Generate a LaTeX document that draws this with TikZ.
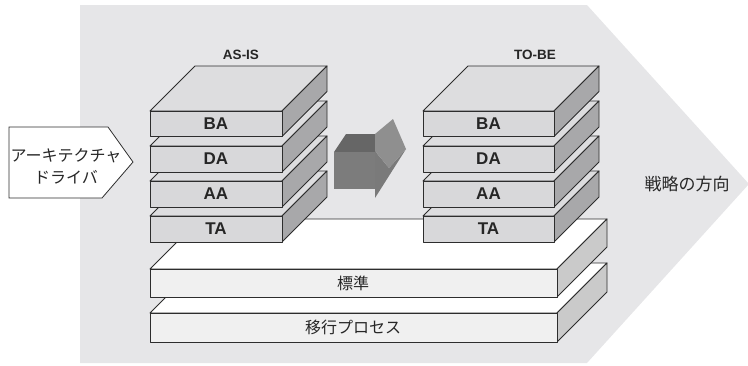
\documentclass[tikz,border=0pt]{standalone}
\usepackage{fontspec}
\setmainfont{Liberation Sans}
\newfontfamily\jpfont{Noto Sans CJK JP}
\definecolor{bggray}{RGB}{230,230,232}
\definecolor{slabfront}{RGB}{216,216,218}
\definecolor{slabtop}{RGB}{221,221,223}
\definecolor{slabside}{RGB}{168,168,170}
\definecolor{basefront}{RGB}{240,240,240}
\definecolor{basetop}{RGB}{255,255,255}
\definecolor{baseside}{RGB}{202,202,202}
\definecolor{edgecol}{RGB}{45,45,45}
\definecolor{arrtop}{RGB}{102,102,102}
\definecolor{arrfront}{RGB}{124,124,124}
\definecolor{arrlight}{RGB}{143,143,143}
\definecolor{arrdark}{RGB}{122,122,122}
\tikzset{
  edge/.style={draw=edgecol,line width=0.9pt,line join=round},
  lbl/.style={font=\bfseries\fontsize{17}{17}\selectfont,text=black!85,inner sep=0pt},
  ttl/.style={font=\bfseries\fontsize{13.5}{14}\selectfont,text=black!85,inner sep=0pt},
  jp/.style={font=\jpfont\fontsize{16}{16}\selectfont,text=black!85,inner sep=0pt},
}
% #1 x0, #2 y0, #3 w, #4 h, #5 d, #6 front, #7 top, #8 side
\newcommand{\myslab}[8]{%
  \draw[edge,fill=#7] (#1,#2) -- ++(#5,-#5) -- ++(#3,0) -- ++(-#5,#5) -- cycle;
  \draw[edge,fill=#8] (#1+#3,#2) -- ++(#5,-#5) -- ++(0,#4) -- ++(-#5,#5) -- cycle;
  \draw[edge,fill=#6] (#1,#2) rectangle ++(#3,#4);
}
\begin{document}
\begin{tikzpicture}[x=1pt,y=-1pt]
\useasboundingbox (0,0) rectangle (748,365);
% background direction pentagon
\fill[bggray] (80,5) -- (587,5) -- (749,184) -- (587,363) -- (80,363) -- cycle;
% left driver pentagon
\draw[draw=edgecol,line width=0.8pt,fill=white] (9,127) -- (108,127) -- (133,162) -- (102,198) -- (9,198) -- cycle;
\node[jp,align=center,font=\jpfont\fontsize{16}{22}\selectfont] (driver) at (66,166) {アーキテクチャ\\ドライバ};
% base slabs
\myslab{150}{313}{407}{29}{50}{basefront}{basetop}{baseside}
\node[jp] (process) at (353,327.5) {移行プロセス};
\myslab{150}{269}{407}{28}{50}{basefront}{basetop}{baseside}
\node[jp] (std) at (353,283) {標準};
% AS-IS stack
\myslab{150}{216}{132}{26}{45}{slabfront}{slabtop}{slabside}
\node[lbl] (asta) at (216,229) {TA};
\myslab{150}{181}{132}{26}{45}{slabfront}{slabtop}{slabside}
\node[lbl] (asaa) at (216,194) {AA};
\myslab{150}{146}{132}{26}{45}{slabfront}{slabtop}{slabside}
\node[lbl] (asda) at (216,159) {DA};
\myslab{150}{111}{132}{25.5}{45}{slabfront}{slabtop}{slabside}
\node[lbl] (asba) at (216,124) {BA};
\node[ttl] (asis) at (241,55) {AS-IS};
% TO-BE stack
\myslab{423}{216}{131}{26}{45}{slabfront}{slabtop}{slabside}
\node[lbl] (tbta) at (488.5,229) {TA};
\myslab{423}{181}{131}{26}{45}{slabfront}{slabtop}{slabside}
\node[lbl] (tbaa) at (488.5,194) {AA};
\myslab{423}{146}{131}{26}{45}{slabfront}{slabtop}{slabside}
\node[lbl] (tbda) at (488.5,159) {DA};
\myslab{423}{111}{131}{25.5}{45}{slabfront}{slabtop}{slabside}
\node[lbl] (tbba) at (488.5,124) {BA};
\node[ttl] (tobe) at (535,55) {TO-BE};
% 3D arrow
\fill[arrtop] (334,152) -- (346,134) -- (376,134) -- (376,152) -- cycle;
\fill[arrfront] (334,152) rectangle (376,189);
\fill[arrdark] (375,151) -- (389,168) -- (406,149) -- (375,198) -- cycle;
\fill[arrlight] (375,134) -- (393,119) -- (406,149) -- (389,168) -- (375,151) -- cycle;
% strategy label
\node[jp,font=\jpfont\fontsize{17}{17}\selectfont] (strategy) at (687,184) {戦略の方向};
\end{tikzpicture}
\end{document}
